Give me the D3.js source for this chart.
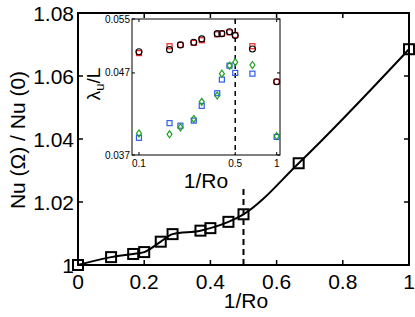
<!DOCTYPE html>
<html>
<head>
<meta charset="utf-8">
<script src="https://cdn.jsdelivr.net/npm/d3@7"></script>
<style>
body { margin: 0; background: #fff; }
text { font-family: "Liberation Sans", Arial, Helvetica, sans-serif; }
</style>
</head>
<body>
<div id="chart"></div>
<script>
// main plot: Nu ratio vs 1/Ro
var invRo = [0, 0.1, 0.1667, 0.2, 0.25, 0.2857, 0.37, 0.4, 0.4545, 0.5, 0.6667, 1];
var nuRatio = [1, 1.0025, 1.0035, 1.0041, 1.0074, 1.0098, 1.0109, 1.0117, 1.0137, 1.0161, 1.0323, 1.0685];
var xTicks = [0, 0.2, 0.4, 0.6, 0.8, 1];
var yTicks = [1, 1.02, 1.04, 1.06, 1.08];

// inset: lambda_u / L vs 1/Ro
var insetRo = [0.1, 0.1667, 0.2, 0.25, 0.2857, 0.37, 0.4, 0.4545, 0.5, 0.6667, 1];
var lamBlack = [0.0500, 0.0503, 0.0510, 0.0514, 0.0519, 0.0527, 0.0527, 0.0530, 0.0524, 0.0504, 0.0458];
var lamRed = [0.0498, 0.0508, 0.0510, 0.0513, 0.0517, 0.0526, 0.0527, 0.0529, 0.0525, 0.0508, 0.0458];
var lamBlue = [0.0389, 0.0406, 0.0403, 0.0409, 0.0427, 0.0443, 0.0461, 0.0480, 0.0470, 0.0469, 0.0390];
var lamGreen = [0.0394, 0.0393, 0.0401, 0.0411, 0.0432, 0.0440, 0.0469, 0.0480, 0.0485, 0.0481, 0.0391];
var insetXTicks = [0.1, 0.5, 1];
var insetYTicks = [0.037, 0.047, 0.055];

var WIDTH = 415;
var HEIGHT = 317;

var svg = d3.select("#chart").append("svg")
	.attr("width", WIDTH)
	.attr("height", HEIGHT);

var x = d3.scaleLinear().domain([0, 1]).range([78, 409]);
var y = d3.scaleLinear().domain([1, 1.08]).range([265, 13]);

// ticks on all four sides, pointing in
function boxTicks(g, xs, ys, xv, yv, len, w) {
	var x0 = xs.range()[0], x1 = xs.range()[1];
	var y0 = ys.range()[0], y1 = ys.range()[1];
	xv.forEach(function(v) {
		g.append("line").attr("x1", xs(v)).attr("x2", xs(v)).attr("y1", y0).attr("y2", y0 - len)
			.attr("stroke", "#000").attr("stroke-width", w);
		g.append("line").attr("x1", xs(v)).attr("x2", xs(v)).attr("y1", y1).attr("y2", y1 + len)
			.attr("stroke", "#000").attr("stroke-width", w);
	});
	yv.forEach(function(v) {
		g.append("line").attr("x1", x0).attr("x2", x0 + len).attr("y1", ys(v)).attr("y2", ys(v))
			.attr("stroke", "#000").attr("stroke-width", w);
		g.append("line").attr("x1", x1).attr("x2", x1 - len).attr("y1", ys(v)).attr("y2", ys(v))
			.attr("stroke", "#000").attr("stroke-width", w);
	});
}

var main = svg.append("g");

boxTicks(main, x, y, xTicks, yTicks, 5, 1.5);

main.append("rect")
	.attr("x", x(0))
	.attr("y", y(1.08))
	.attr("width", x(1) - x(0))
	.attr("height", y(1) - y(1.08))
	.attr("fill", "none")
	.attr("stroke", "#000")
	.attr("stroke-width", 2);

main.selectAll(".xlab")
	.data(xTicks)
	.enter()
	.append("text")
	.attr("x", d => x(d))
	.attr("y", 289)
	.attr("text-anchor", "middle")
	.style("font-size", "21px")
	.text(d => d3.format("~g")(d));

main.selectAll(".ylab")
	.data(yTicks)
	.enter()
	.append("text")
	.attr("x", 74)
	.attr("y", d => y(d) + 7.5)
	.attr("text-anchor", "end")
	.style("font-size", "21px")
	.text(d => d3.format("~g")(d));

main.append("text")
	.attr("x", 246)
	.attr("y", 308)
	.attr("text-anchor", "middle")
	.style("font-size", "21px")
	.text("1/Ro");

main.append("text")
	.attr("transform", "translate(25,140) rotate(-90)")
	.attr("text-anchor", "middle")
	.style("font-size", "21px")
	.text("Nu (\u03A9) / Nu (0)");

// dashed marker at 1/Ro = 0.5
main.append("line")
	.attr("x1", x(0.5)).attr("x2", x(0.5))
	.attr("y1", y(1)).attr("y2", y(1.025))
	.attr("stroke", "#000")
	.attr("stroke-width", 2)
	.attr("stroke-dasharray", "6,4");

var mainData = invRo.map(function(v, i) { return {x: v, y: nuRatio[i]}; });

main.append("path")
	.datum(mainData)
	.attr("fill", "none")
	.attr("stroke", "#000")
	.attr("stroke-width", 2)
	.attr("d", d3.line().x(d => x(d.x)).y(d => y(d.y)).curve(d3.curveMonotoneX));

main.selectAll(".msq")
	.data(mainData)
	.enter()
	.append("rect")
	.attr("x", d => x(d.x) - 5)
	.attr("y", d => y(d.y) - 5)
	.attr("width", 10)
	.attr("height", 10)
	.attr("fill", "none")
	.attr("stroke", "#000")
	.attr("stroke-width", 2);

// inset
var ix = d3.scaleLog().domain([0.089, 1.057]).range([132, 280]);
var iy = d3.scaleLog().domain([0.037, 0.055]).range([155, 19]);

var inset = svg.append("g");

inset.append("rect")
	.attr("x", 132)
	.attr("y", 19)
	.attr("width", 148)
	.attr("height", 136)
	.attr("fill", "#fff")
	.attr("stroke", "none");

boxTicks(inset, ix, iy, insetXTicks, insetYTicks, 3, 1);

inset.append("rect")
	.attr("x", 132)
	.attr("y", 19)
	.attr("width", 148)
	.attr("height", 136)
	.attr("fill", "none")
	.attr("stroke", "#000")
	.attr("stroke-width", 1);

inset.selectAll(".ixl")
	.data(insetXTicks)
	.enter()
	.append("text")
	.attr("x", d => ix(d))
	.attr("y", 167)
	.attr("text-anchor", "middle")
	.style("font-size", "10px")
	.text(d => d3.format("~g")(d));

inset.selectAll(".iyl")
	.data(insetYTicks)
	.enter()
	.append("text")
	.attr("x", 130)
	.attr("y", d => iy(d) + 3.5)
	.attr("text-anchor", "end")
	.style("font-size", "10px")
	.text(d => d3.format(".3f")(d));

inset.append("text")
	.attr("x", 206)
	.attr("y", 188)
	.attr("text-anchor", "middle")
	.style("font-size", "21px")
	.text("1/Ro");

var lamLabel = inset.append("text")
	.attr("transform", "translate(100,84) rotate(-90)")
	.attr("text-anchor", "middle")
	.style("font-size", "19px");
lamLabel.append("tspan").text("\u03BB");
lamLabel.append("tspan").attr("dy", 4).style("font-size", "13px").text("u");
lamLabel.append("tspan").attr("dy", -4).text("/L");

inset.append("line")
	.attr("x1", ix(0.5)).attr("x2", ix(0.5))
	.attr("y1", 19).attr("y2", 155)
	.attr("stroke", "#000")
	.attr("stroke-width", 1.5)
	.attr("stroke-dasharray", "5,4");

function pts(vals) {
	return insetRo.map(function(v, i) { return {x: v, y: vals[i]}; });
}

inset.selectAll(".rsq")
	.data(pts(lamRed))
	.enter()
	.append("rect")
	.attr("x", d => ix(d.x) - 2.5)
	.attr("y", d => iy(d.y) - 2.5)
	.attr("width", 5)
	.attr("height", 5)
	.attr("fill", "none")
	.attr("stroke", "#ee2020")
	.attr("stroke-width", 1.2);

inset.selectAll(".bcirc")
	.data(pts(lamBlack))
	.enter()
	.append("circle")
	.attr("cx", d => ix(d.x))
	.attr("cy", d => iy(d.y))
	.attr("r", 3)
	.attr("fill", "none")
	.attr("stroke", "#000")
	.attr("stroke-width", 1.1);

inset.selectAll(".bsq")
	.data(pts(lamBlue))
	.enter()
	.append("rect")
	.attr("x", d => ix(d.x) - 2.5)
	.attr("y", d => iy(d.y) - 2.5)
	.attr("width", 5)
	.attr("height", 5)
	.attr("fill", "none")
	.attr("stroke", "#2f5cf0")
	.attr("stroke-width", 1.2);

inset.selectAll(".gdia")
	.data(pts(lamGreen))
	.enter()
	.append("path")
	.attr("transform", d => "translate(" + ix(d.x) + "," + iy(d.y) + ")")
	.attr("d", "M0,-3.5L2.5,0L0,3.5L-2.5,0Z")
	.attr("fill", "none")
	.attr("stroke", "#22a022")
	.attr("stroke-width", 1.2);
</script>
</body>
</html>
